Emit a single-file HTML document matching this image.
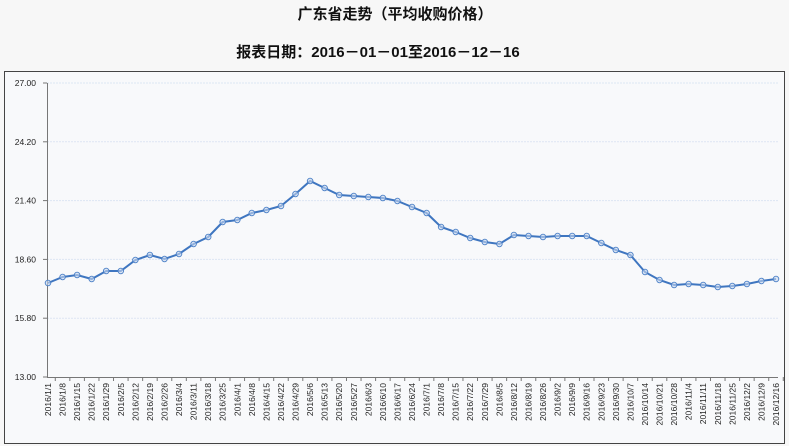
<!DOCTYPE html>
<html><head><meta charset="utf-8"><style>
html,body{margin:0;padding:0;background:#f7f7f7;width:789px;height:446px;overflow:hidden}
</style></head><body>
<svg id="s" width="789" height="446" xmlns="http://www.w3.org/2000/svg" style="position:absolute;left:0;top:0">
<text x="395" y="19" text-anchor="middle" font-family="'Liberation Sans','Noto Sans CJK SC',sans-serif" font-size="15" font-weight="bold" fill="#111">广东省走势（平均收购价格）</text>
<text x="378" y="57" text-anchor="middle" font-family="'Liberation Sans','Noto Sans CJK SC',sans-serif" font-size="15" font-weight="bold" fill="#111">报表日期：2016－01－01至2016－12－16</text>
<rect x="4.5" y="71.5" width="780" height="372" fill="#f8f9fb" stroke="#444" stroke-width="1"/>
<g id="g"></g>
</svg>
<script>
var ys=[283,277,275,279,271,271,260,255,259,254,244,237,222,220,213,210,206,194,181,188,195,196,197,198,201,207,213,227,232,238,242,244,235,236,237,236,236,236,243,250,255,272,280,285,284,285,287,286,284,281,279];
var d=new Date(2016,0,1),labels=[];
for(var i=0;i<51;i++){labels.push('2016/'+(d.getMonth()+1)+'/'+d.getDate());d.setDate(d.getDate()+7);}
var h='';
var yl=['27.00','24.20','21.40','18.60','15.80','13.00'];
for(var k=0;k<6;k++){var y=83+k*58.8;
 if(k<5)h+='<line x1="47" x2="778" y1="'+y+'" y2="'+y+'" stroke="#dde6f3" stroke-width="1" stroke-dasharray="2,1"/>';
 h+='<line x1="43" x2="47" y1="'+y+'" y2="'+y+'" stroke="#777"/>';
 h+='<text x="36" y="'+(y+3)+'" text-anchor="end" font-family="Liberation Sans,sans-serif" font-size="8.5" fill="#222">'+yl[k]+'</text>';}
h+='<line x1="47.5" x2="47.5" y1="83" y2="377" stroke="#777"/>';
h+='<line x1="47" x2="778" y1="377.5" y2="377.5" stroke="#777"/>';
var pts=[];
for(var i=0;i<51;i++){var x=48+i*14.56;pts.push(x.toFixed(1)+','+ys[i]);
 var tx=x+7.28;h+='<line x1="'+tx+'" x2="'+tx+'" y1="377" y2="381" stroke="#777"/>';
 h+='<text transform="translate('+(x+3)+',383) rotate(-90)" text-anchor="end" font-family="Liberation Sans,sans-serif" font-size="8.5" fill="#222">'+labels[i]+'</text>';}
h+='<polyline points="'+pts.join(' ')+'" fill="none" stroke="#3f76c0" stroke-width="2"/>';
for(var i=0;i<51;i++){var p=pts[i].split(',');h+='<circle cx="'+p[0]+'" cy="'+p[1]+'" r="2.8" fill="#c9d9f0" fill-opacity="0.6" stroke="#4a7fc6" stroke-width="0.9"/>';}
document.getElementById('g').innerHTML=h;
</script>
</body></html>
